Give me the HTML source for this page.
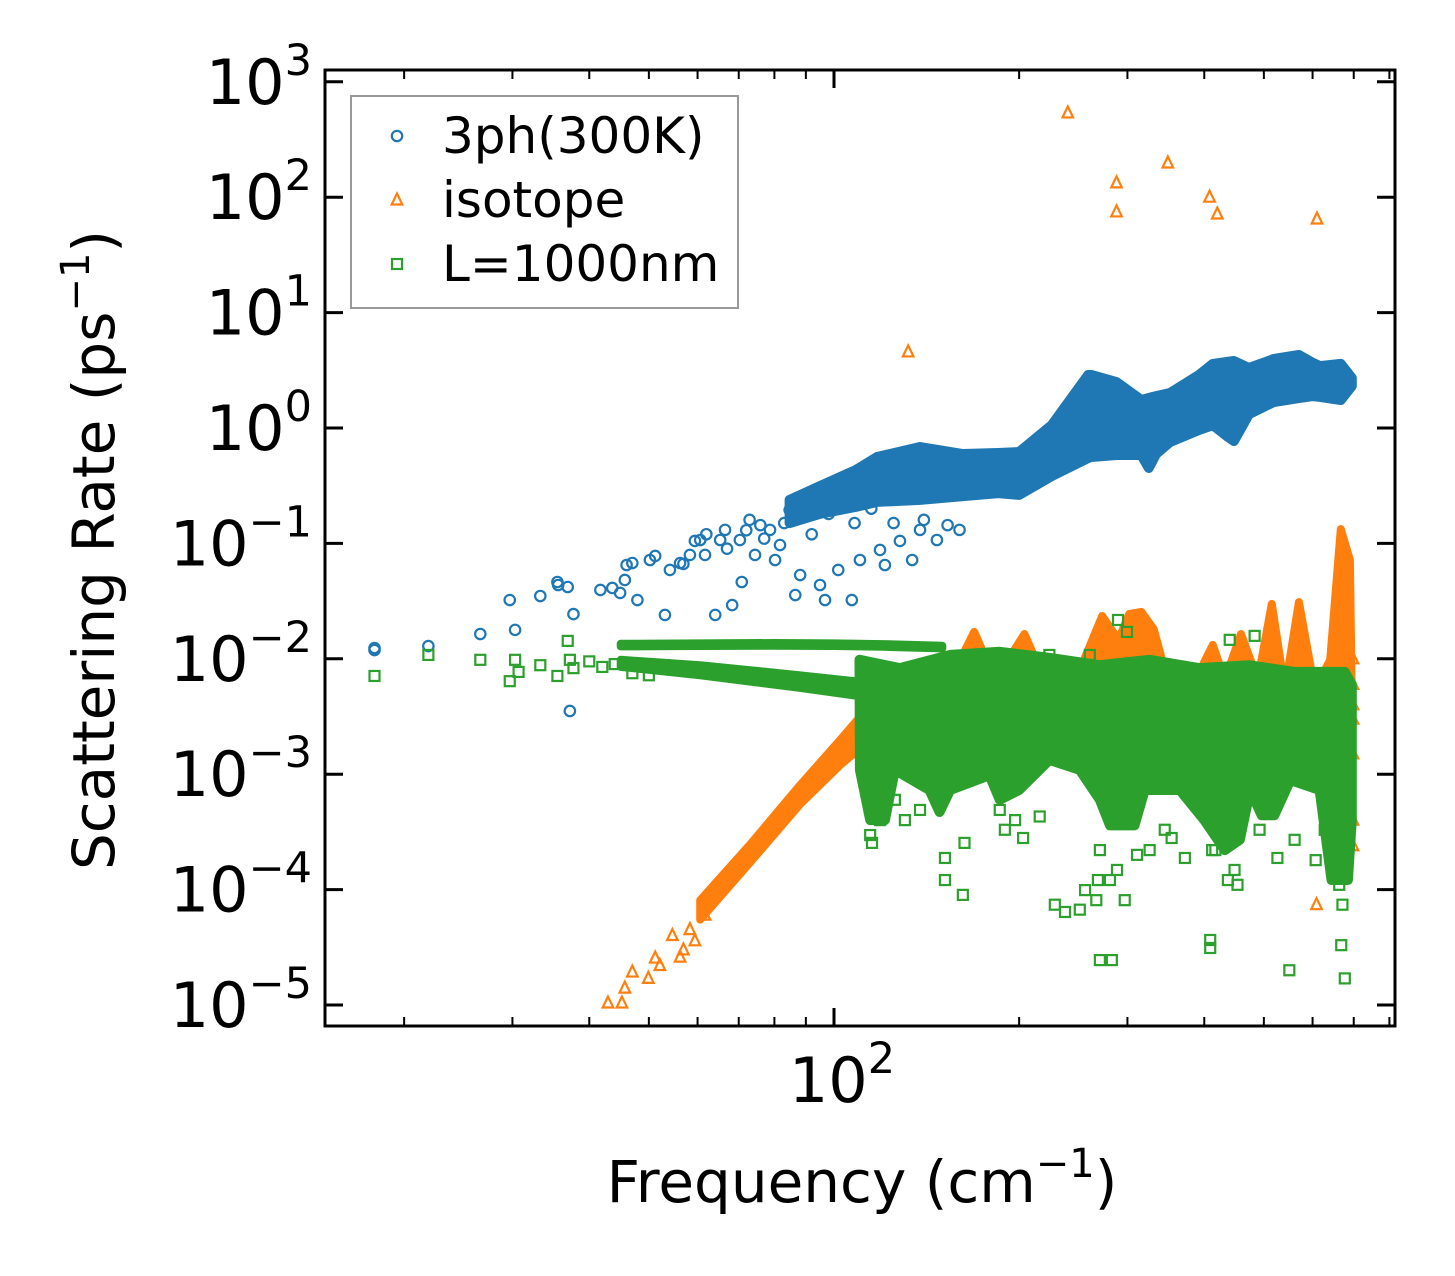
<!DOCTYPE html>
<html><head><meta charset="utf-8"><style>
html,body{margin:0;padding:0;background:#fff;}
svg{display:block;font-family:"DejaVu Sans","Liberation Sans",sans-serif;}
</style></head><body>
<svg id="chart" width="1455" height="1276" viewBox="0 0 1455 1276" xmlns="http://www.w3.org/2000/svg">
<defs><clipPath id="plotclip"><rect x="325" y="70" width="1070" height="956"/></clipPath></defs>
<rect x="0" y="0" width="1455" height="1276" fill="#fff"/>
<g id="marks" clip-path="url(#plotclip)"></g>
<g id="axes"></g>
<g id="legend"></g>
</svg>
<script>
// ---- data ----
const blueF=[17.9,17.9,21.9,26.6,29.7,30.3,33.3,35.5,35.6,36.9,37.2,37.7,41.7,43.6,44.9,45.7,46,47,47.9,50.2,51.2,53.1,54.1,56.2,56.9,58.3,59.4,60.6,61.7,64.1,65.3,66.5,68.3,70.3,70.8,72.9,74.4,75.9,78.7,80.2,81.7,84.7,86.5,88.1,94.9,96.7,101.6,106.9,110.2,118.8,121,128,134,138,147,153,160,62,67,72,77,83,90,92,98,103,108,115,125,140];
const blueR=[.0124,.0119,.0129,.0164,.0323,.0178,.035,.0463,.0436,.0419,.00353,.0244,.0395,.0411,.0372,.0482,.065,.0676,.0323,.0718,.0778,.024,.0589,.0676,.0664,.0794,.105,.107,.0794,.024,.107,.131,.0292,.107,.0463,.16,.0794,.144,.131,.0718,.0968,.195,.0357,.0532,.0436,.0323,.0589,.0323,.0718,.0877,.065,.105,.0718,.131,.107,.144,.131,.12,.09,.13,.11,.15,.2,.12,.18,.25,.15,.2,.15,.16];
const blueBandF=[84.7,94.9,108.6,117.5,138,162,185,200,226,259,262,288,316,325,334,352,392,413,435,447,473,519,570,601,617,667,695];
const blueBandHi=[.238,.314,.433,.561,.684,.595,.607,.62,1.06,2.88,2.88,2.5,1.75,1.82,1.89,2.01,2.88,3.59,3.73,3.81,3.31,3.96,4.29,3.66,3.44,3.59,2.71];
const blueBandLo=[.15,.18,.207,.229,.238,.257,.273,.263,.384,.55,.561,.583,.583,.45,.595,.756,.96,1.06,.853,.771,1.32,1.68,1.82,1.89,1.86,1.75,2.31];

const isoF=[240,288,288,349,408,420,610,132,42.9,45.2,45.7,47,49.9,51.2,52.1,54.6,56.2,56.9,58.3,59.4,61.7,609,698,698,698,698,698,698,698];
const isoR=[537,133,74.5,198,100,71.5,64.7,4.56,1.04e-5,1.04e-5,1.4e-5,1.93e-5,1.7e-5,2.55e-5,2.2e-5,4.0e-5,2.6e-5,3.0e-5,4.5e-5,3.6e-5,6.0e-5,7.4e-5,.01,.006,.004,.003,.0015,4e-4,2.4e-4];
const isoBandF=[60.6,72.9,88.1,102.3,114.5,128,154.5,169,183,204,220,251,273,290,302,316,331,345,361,387,413,432,459,489,515,541,570,605,641,667,690,695];
const isoBandHi=[8.1e-5,2.43e-4,8.06e-4,.00198,.00398,.00537,.00655,.0171,.00655,.0164,.00655,.008,.0235,.0146,.0244,.0255,.0181,.008,.00867,.00655,.0132,.00655,.0164,.00655,.0299,.00537,.031,.00537,.0098,.133,.0718,.0044];
const isoBandLo=[5.5e-5,1.7e-4,5.5e-4,1.2e-3,1.98e-3,1.5e-3,1.33e-3,1.33e-3,1.33e-3,1.33e-3,1.33e-3,1.33e-3,1.33e-3,1.33e-3,1.33e-3,1.33e-3,1.33e-3,1.33e-3,1.33e-3,1.33e-3,1.33e-3,1.33e-3,1.33e-3,1.33e-3,1.33e-3,1.33e-3,1.33e-3,1.33e-3,1.2e-3,8e-4,8e-4,8e-4];

const bndF=[17.9,21.9,26.6,29.7,30.3,30.7,33.3,35.5,36.9,37.2,37.7,114.5,115.3,118.8,125.6,130.4,138,151.5,151.5,162,163,186,189.6,197,203,216,228.6,237.5,251,256,267,268.6,270.6,270.6,281,283,288.5,289.6,297,299.5,311,326,345,354,372,409,409,412,417,437,440,448,453,483,492,526,550,561,607,628,663,668,671,677,186,224,260.6,40,42,44,47,50,53];
const bndR=[.0071,.0108,.0098,.0064,.0098,.0077,.0088,.0071,.0143,.0098,.0083,2.97e-4,2.54e-4,4.0e-4,6.0e-4,4.0e-4,4.9e-4,1.88e-4,1.21e-4,9.0e-5,2.54e-4,4.9e-4,3.3e-4,4.0e-4,2.8e-4,4.3e-4,7.4e-5,6.4e-5,6.7e-5,9.9e-5,8.1e-5,1.21e-4,2.2e-4,2.45e-5,1.21e-4,2.45e-5,1.48e-4,.0217,8.1e-5,.0171,2.0e-4,2.2e-4,3.3e-4,2.8e-4,1.88e-4,3.66e-5,3.12e-5,2.2e-4,2.2e-4,1.21e-4,.0146,1.48e-4,1.1e-4,.0158,3.3e-4,1.88e-4,2.0e-5,2.7e-4,1.8e-4,3.3e-4,1.1e-4,3.3e-5,7.4e-5,1.7e-5,.0108,.0108,.0108,.0095,.0085,.009,.0075,.0072,.0088];
const strand1F=[45,60,80,100,120,150];
const strand1Hi=[.0135,.0136,.0137,.0136,.0134,.013];
const strand1Lo=[.0128,.0129,.013,.0129,.0127,.0123];
const strand2F=[45,60.6,88.1,114.5];
const strand2Hi=[.0098,.0088,.0072,.0062];
const strand2Lo=[.0085,.0072,.0056,.0046];
const blockHiF=[110,128,154.5,186,224,270,326,392,473,561,677,695];
const blockHiR=[.0098,.0083,.0108,.0115,.0102,.0088,.0098,.0083,.0088,.0077,.0077,.006];
const blockLoF=[110.2,114.5,121,125.6,143,148.5,154.5,179,186,200,224,251,270.6,281,308,320,365,400,432,457,475,496,520,552,616,644,685,695];
const blockLoR=[1.09e-3,4.0e-4,4.0e-4,1.09e-3,7.3e-4,4.7e-4,7.3e-4,9.8e-4,6.0e-4,7.3e-4,1.33e-3,1.09e-3,6.0e-4,3.6e-4,3.6e-4,7.3e-4,7.3e-4,4.0e-4,2.2e-4,2.7e-4,7.3e-4,4.4e-4,4.4e-4,8.9e-4,7.3e-4,1.21e-4,1.21e-4,4.0e-4];

const yTickExp=[3,2,1,0,-1,-2,-3,-4,-5];
const xMinor=[20,30,40,50,60,70,80,90,200,300,400,500,600,700,800];
const xMajor=[100];

// ---- scales ----
const X=f=>834+615*(Math.log10(f)-2);
const Y=r=>428-115.4*Math.log10(r);
const NS='http://www.w3.org/2000/svg';
const svg=document.getElementById('chart');
const marks=document.getElementById('marks');
const axes=document.getElementById('axes');
const leg=document.getElementById('legend');
const C1='#1f77b4',C2='#ff7f0e',C3='#2ca02c';
function mk(tag,attrs,parent){const e=document.createElementNS(NS,tag);for(const k in attrs)e.setAttribute(k,attrs[k]);parent.appendChild(e);return e;}
function band(F,Hi,Lo,col,name,sw,F2){
  const FL=F2||F;
  let pts=F.map((f,i)=>X(f).toFixed(1)+','+Y(Hi[i]).toFixed(1));
  for(let i=FL.length-1;i>=0;i--)pts.push(X(FL[i]).toFixed(1)+','+Y(Lo[i]).toFixed(1));
  const p=mk('polygon',{points:pts.join(' '),fill:col,stroke:col,'stroke-width':sw,'stroke-linejoin':'round'},marks);
  
  
}
function circ(x,y,col,g){return mk('circle',{cx:x,cy:y,r:5.2,fill:'none',stroke:col,'stroke-width':2.2},g);}
function tri(x,y,col,g){return mk('polygon',{points:`${x},${y-6.5} ${x-5.3},${y+4.5} ${x+5.3},${y+4.5}`,fill:'none',stroke:col,'stroke-width':2.2},g);}
function sq(x,y,col,g){return mk('rect',{x:x-5,y:y-5,width:10,height:10,fill:'none',stroke:col,'stroke-width':2.2},g);}

band(blueBandF,blueBandHi,blueBandLo,C1,'3ph-dense-band',10);
blueF.forEach((f,i)=>{const e=circ(X(f),Y(blueR[i]),C1,marks);

});
band(isoBandF,isoBandHi,isoBandLo,C2,'isotope-dense-band',8);
isoF.forEach((f,i)=>{const e=tri(X(f),Y(isoR[i]),C2,marks);

});
band(strand1F,strand1Hi,strand1Lo,C3,'boundary-upper-strand',8);
band(strand2F,strand2Hi,strand2Lo,C3,'boundary-lower-strand',8);
band(blockHiF,blockHiR,blockLoR,C3,'boundary-dense-block',10,blockLoF);
bndF.forEach((f,i)=>{const e=sq(X(f),Y(bndR[i]),C3,marks);

});

const fr=mk('rect',{x:325,y:70,width:1070,height:956,fill:'none',stroke:'#000','stroke-width':3},axes);


yTickExp.forEach(e=>{const y=Y(Math.pow(10,e));
 mk('line',{x1:325,y1:y,x2:343,y2:y,stroke:'#000','stroke-width':3},axes);
 mk('line',{x1:1395,y1:y,x2:1377,y2:y,stroke:'#000','stroke-width':3},axes);
 const t=mk('text',{x:312,y:y+22,'font-size':62,'text-anchor':'end',fill:'#000'},axes);
 
 
 t.appendChild(document.createTextNode('10'));
 const s=mk('tspan',{dy:-29,'font-size':43},t);s.textContent=(e<0?'\u2212':'')+Math.abs(e);
});
xMinor.forEach(f=>{const x=X(f);
 mk('line',{x1:x,y1:1026,x2:x,y2:1017,stroke:'#000','stroke-width':2},axes);
 mk('line',{x1:x,y1:70,x2:x,y2:79,stroke:'#000','stroke-width':2},axes);});
xMajor.forEach(f=>{const x=X(f);
 mk('line',{x1:x,y1:1026,x2:x,y2:1008,stroke:'#000','stroke-width':3},axes);
 mk('line',{x1:x,y1:70,x2:x,y2:88,stroke:'#000','stroke-width':3},axes);
 const t=mk('text',{x:x+8,y:1102,'font-size':62,'text-anchor':'middle',fill:'#000'},axes);
 
 
 t.appendChild(document.createTextNode('10'));
 const s=mk('tspan',{dy:-29,'font-size':43},t);s.textContent=Math.log10(f);
});

const xt=mk('text',{x:862,y:1202,'font-size':58,'text-anchor':'middle',fill:'#000'},svg);


xt.appendChild(document.createTextNode('Frequency (cm'));
mk('tspan',{dy:-25,'font-size':40},xt).textContent='\u22121';
mk('tspan',{dy:25},xt).textContent=')';
const yt=mk('text',{transform:'translate(114,550) rotate(-90)','font-size':58,'text-anchor':'middle',fill:'#000'},svg);


yt.appendChild(document.createTextNode('Scattering Rate (ps'));
mk('tspan',{dy:-25,'font-size':40},yt).textContent='\u22121';
mk('tspan',{dy:25},yt).textContent=')';

const lf=mk('rect',{x:351,y:96,width:387,height:212,fill:'#fff','fill-opacity':0.8,stroke:'#999','stroke-width':2},leg);


const legLabels=['3ph(300K)','isotope','L=1000nm'];
const legY=[136,200,264];
const legCols=[C1,C2,C3];
legLabels.forEach((lab,i)=>{
 const g=mk('g',{},leg);
 
 
 if(i===0)circ(397,legY[i],legCols[i],g);
 else if(i===1)tri(397,legY[i],legCols[i],g);
 else sq(397,legY[i],legCols[i],g);
 const t=mk('text',{x:442,y:legY[i]+17,'font-size':50,fill:'#000'},g);
 t.textContent=lab;
});
</script>
</body></html>
